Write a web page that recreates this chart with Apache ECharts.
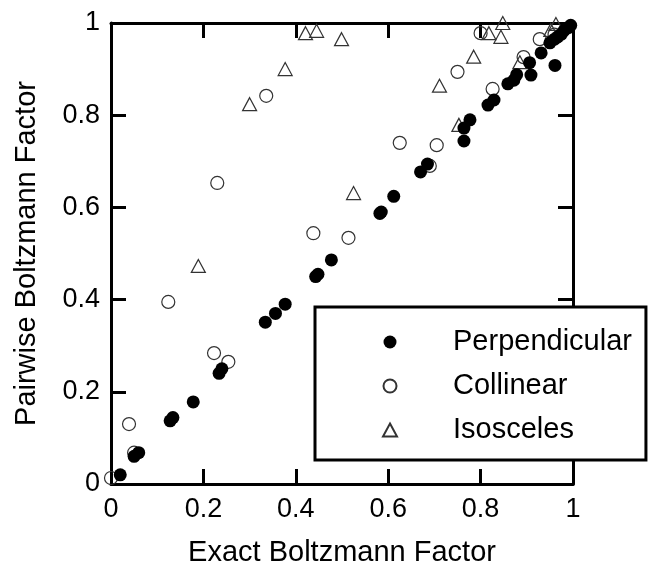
<!DOCTYPE html>
<html>
<head>
<meta charset="utf-8">
<script src="https://cdn.jsdelivr.net/npm/echarts@6/dist/echarts.min.js"></script>
<style>
html,body{margin:0;padding:0;background:#fff;}
#chart{width:651px;height:574px;}
</style>
</head>
<body>
<div id="chart"></div>
<script>
const seriesNames = ['Perpendicular', 'Collinear', 'Isosceles'];
const axisTicks = [0, 0.2, 0.4, 0.6, 0.8, 1];
const xTitle = 'Exact Boltzmann Factor';
const yTitle = 'Pairwise Boltzmann Factor';

const perpendicular = [
  [0.02,0.02],[0.05,0.06],[0.06,0.068],[0.128,0.137],[0.134,0.144],[0.178,0.178],
  [0.234,0.24],[0.24,0.25],[0.334,0.351],[0.356,0.37],[0.377,0.39],[0.443,0.45],
  [0.448,0.455],[0.477,0.486],[0.582,0.587],[0.585,0.59],[0.612,0.624],[0.67,0.677],
  [0.685,0.694],[0.764,0.744],[0.764,0.772],[0.777,0.79],[0.816,0.822],[0.829,0.833],
  [0.859,0.868],[0.872,0.876],[0.878,0.888],[0.909,0.887],[0.906,0.914],[0.931,0.935],
  [0.961,0.908],[0.95,0.957],[0.96,0.965],[0.967,0.97],[0.975,0.976],[0.981,0.984],
  [0.99,0.99],[0.995,0.995]
];
const collinear = [
  [0.0,0.013],[0.039,0.13],[0.05,0.068],[0.124,0.395],[0.223,0.284],[0.23,0.653],
  [0.254,0.265],[0.336,0.842],[0.438,0.544],[0.514,0.534],[0.625,0.74],[0.69,0.69],
  [0.705,0.735],[0.75,0.894],[0.8,0.978],[0.826,0.857],[0.893,0.926],[0.928,0.965],
  [0.96,0.975]
];
const isosceles = [
  [0.189,0.473],[0.3,0.824],[0.377,0.9],[0.421,0.978],[0.445,0.983],[0.499,0.965],
  [0.525,0.631],[0.711,0.864],[0.753,0.779],[0.785,0.927],[0.818,0.978],[0.844,0.97],
  [0.848,1.0],[0.885,0.915],[0.952,0.985],[0.963,0.998]
];

const FONT = 'Liberation Sans, Arial, sans-serif';
const chart = echarts.init(document.getElementById('chart'), null, {renderer: 'canvas'});

function fmt(v) { return axisTicks.indexOf(v) >= 0 ? String(v) : ''; }

function baseAxis() {
  return {
    type: 'value', min: 0, max: 1, interval: 0.2,
    axisLine: {show: true, onZero: false, lineStyle: {color: '#000', width: 3}},
    axisTick: {show: true, inside: true, length: 15, lineStyle: {color: '#000', width: 3}},
    splitLine: {show: false}
  };
}

chart.setOption({
  animation: false,
  backgroundColor: '#fff',
  grid: {left: 111, right: 78, top: 23, bottom: 90, containLabel: false},
  xAxis: [
    Object.assign(baseAxis(), {
      position: 'bottom',
      name: xTitle, nameLocation: 'middle', nameGap: 54,
      nameTextStyle: {fontFamily: FONT, fontSize: 29, color: '#000'},
      axisLabel: {show: true, margin: 12, fontFamily: FONT, fontSize: 27, color: '#000', formatter: fmt}
    }),
    Object.assign(baseAxis(), {position: 'top', axisLabel: {show: false}})
  ],
  yAxis: [
    Object.assign(baseAxis(), {
      position: 'left',
      name: yTitle, nameLocation: 'middle', nameGap: 70, nameRotate: 90,
      nameTextStyle: {fontFamily: FONT, fontSize: 29, color: '#000'},
      axisLabel: {show: true, margin: 11, fontFamily: FONT, fontSize: 27, color: '#000', formatter: fmt}
    }),
    Object.assign(baseAxis(), {position: 'right', axisLabel: {show: false}})
  ],
  legend: {
    orient: 'vertical',
    left: 315, top: 307,
    padding: [20, 14, 15, 67],
    itemWidth: 14, itemHeight: 13, itemGap: 14,
    backgroundColor: '#fff',
    borderColor: '#000', borderWidth: 3,
    textStyle: {fontFamily: FONT, fontSize: 29, color: '#000', lineHeight: 30, padding: [0, 0, 0, 51]},
    data: seriesNames,
    z: 10
  },
  series: [
    {
      name: seriesNames[1], type: 'scatter', data: collinear,
      symbol: 'circle', symbolSize: 13, clip: false,
      itemStyle: {color: 'rgba(255,255,255,0)', borderColor: '#333', borderWidth: 1.2, opacity: 1}
    },
    {
      name: seriesNames[2], type: 'scatter', data: isosceles,
      symbol: 'triangle', symbolSize: [14, 13], clip: false,
      itemStyle: {color: 'rgba(255,255,255,0)', borderColor: '#333', borderWidth: 1.2, opacity: 1}
    },
    {
      name: seriesNames[0], type: 'scatter', data: perpendicular,
      symbol: 'circle', symbolSize: 13, clip: false,
      itemStyle: {color: '#000', opacity: 1}
    }
  ]
});
</script>
</body>
</html>
